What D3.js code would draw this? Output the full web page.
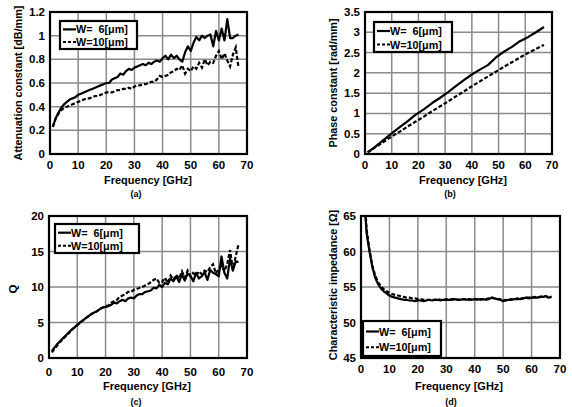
<!DOCTYPE html>
<html><head><meta charset="utf-8">
<script src="https://cdn.jsdelivr.net/npm/d3@7"></script>
<style>body{margin:0;background:#fff}svg{display:block}text{font-family:"Liberation Sans",Arial,sans-serif;font-weight:bold;fill:#000}</style>
</head><body><svg id="c" width="572" height="407"></svg>
<script>
const freq = d3.range(1, 68); // 1..67 GHz
const freqB = [1,4,7,10,13,16,19,22,25,28,31,34,37,40,43,46,49,52,55,58,61,64,67];
const seriesNames = ["W=  6[μm]", "W=10[μm]"];
const xTicks = [0,10,20,30,40,50,60,70];

const attW6 = [0.23,0.30,0.35,0.39,0.42,0.44,0.46,0.47,0.48,0.50,0.51,0.52,0.53,0.54,0.55,0.56,0.57,0.58,0.59,0.60,0.60,0.63,0.64,0.65,0.68,0.67,0.70,0.72,0.71,0.73,0.74,0.75,0.76,0.75,0.77,0.76,0.78,0.79,0.78,0.81,0.83,0.80,0.84,0.81,0.83,0.80,0.78,0.86,0.91,0.87,0.94,0.99,0.96,1.00,0.98,1.00,1.01,0.91,1.04,0.96,1.06,0.96,1.14,0.98,0.98,1.00,1.01];
const attW10 = [0.23,0.30,0.34,0.37,0.39,0.40,0.41,0.42,0.43,0.44,0.45,0.46,0.47,0.47,0.48,0.49,0.49,0.50,0.51,0.52,0.52,0.52,0.53,0.54,0.54,0.55,0.55,0.56,0.55,0.57,0.58,0.58,0.59,0.59,0.60,0.61,0.61,0.63,0.66,0.65,0.66,0.67,0.69,0.70,0.72,0.71,0.75,0.68,0.72,0.70,0.74,0.72,0.77,0.73,0.80,0.75,0.78,0.77,0.83,0.87,0.80,0.85,0.79,0.74,0.84,0.90,0.73];
const attTicks = [0,0.2,0.4,0.6,0.8,1,1.2];

const phW6 = [0.04,0.19,0.35,0.51,0.66,0.81,0.97,1.10,1.25,1.38,1.52,1.67,1.82,1.96,2.08,2.19,2.38,2.52,2.64,2.78,2.88,3.00,3.13];
const phW10 = [0.04,0.17,0.30,0.43,0.55,0.68,0.80,0.92,1.05,1.17,1.29,1.42,1.54,1.67,1.79,1.91,2.03,2.15,2.26,2.38,2.49,2.59,2.69];
const phTicks = [0,0.5,1,1.5,2,2.5,3,3.5];

const qW6 = [1.0,1.5,2.0,2.4,2.8,3.2,3.6,4.0,4.3,4.7,5.0,5.3,5.6,5.9,6.2,6.4,6.6,6.9,7.1,7.2,7.3,7.5,7.8,7.7,8.0,8.2,8.0,8.4,8.5,8.4,8.8,9.0,9.0,9.3,9.4,9.5,9.9,9.8,10.3,10.0,10.6,10.4,11.2,10.8,11.5,10.7,11.8,10.9,11.9,11.6,10.8,12.0,11.2,11.5,12.1,11.0,12.4,12.0,11.8,11.5,14.3,12.0,11.2,14.0,12.3,13.6,13.5];
const qW10 = [0.8,1.3,1.8,2.3,2.7,3.1,3.5,3.9,4.3,4.6,5.0,5.3,5.6,5.9,6.2,6.4,6.6,6.9,7.1,7.3,7.4,7.8,8.0,8.2,8.6,8.8,9.0,9.3,9.3,9.6,9.7,9.9,10.0,10.2,10.4,10.7,11.0,11.2,10.6,10.7,11.3,10.6,11.6,11.0,11.7,11.2,12.2,11.3,12.3,11.5,12.0,11.6,12.2,11.8,12.3,12.1,12.8,13.2,11.9,12.5,13.0,12.2,13.2,15.2,12.5,14.3,16.0];
const qTicks = [0,5,10,15,20];

const zW6 = [68,62.5,60.0,57.8,56.3,55.4,54.8,54.4,54.1,53.8,53.6,53.5,53.4,53.3,53.2,53.2,53.1,53.1,53.0,53.1,53.1,53.0,53.1,53.2,53.1,53.2,53.2,53.1,53.2,53.2,53.2,53.2,53.3,53.2,53.2,53.3,53.2,53.3,53.2,53.3,53.3,53.2,53.3,53.2,53.3,53.5,53.4,53.3,53.2,53.0,53.1,53.2,53.2,53.3,53.3,53.3,53.4,53.5,53.4,53.5,53.5,53.5,53.6,53.6,53.7,53.5,53.6];
const zW10 = [69,63.0,60.2,58.0,56.6,55.7,55.1,54.7,54.4,54.2,54.0,53.9,53.8,53.7,53.6,53.5,53.5,53.4,53.4,53.3,53.3,53.2,53.2,53.2,53.2,53.2,53.3,53.2,53.2,53.3,53.2,53.3,53.3,53.2,53.3,53.3,53.3,53.2,53.3,53.3,53.2,53.3,53.3,53.3,53.4,53.5,53.4,53.3,53.3,53.1,53.2,53.2,53.3,53.3,53.4,53.4,53.4,53.5,53.5,53.5,53.6,53.5,53.6,53.7,53.7,53.6,53.6];
const zTicks = [45,50,55,60,65];

const svg = d3.select("#c");

function panel(o) {
  const g = svg.append("g");
  const x = d3.scaleLinear().domain([0,70]).range([o.l, o.r]);
  const y = d3.scaleLinear().domain([o.yt[0], o.yt[o.yt.length-1]]).range([o.b, o.t]);
  const id = "clip" + o.tag;
  svg.append("clipPath").attr("id", id).append("rect")
    .attr("x", o.l).attr("y", o.t).attr("width", o.r - o.l).attr("height", o.b - o.t);
  g.append("g").selectAll("line").data(xTicks).join("line")
    .attr("x1", d => x(d)).attr("x2", d => x(d)).attr("y1", o.t).attr("y2", o.b)
    .attr("stroke", "#8a8a8a").attr("stroke-width", 1.5);
  g.append("g").selectAll("line").data(o.yt).join("line")
    .attr("y1", d => y(d)).attr("y2", d => y(d)).attr("x1", o.l).attr("x2", o.r)
    .attr("stroke", "#8a8a8a").attr("stroke-width", 1.5);
  const line = d3.line().x(d => x(d[0])).y(d => y(d[1]));
  const lg = g.append("g").attr("clip-path", `url(#${id})`);
  lg.append("path").datum(o.fx.map((f,i) => [f, o.s1[i]])).attr("d", line)
    .attr("fill","none").attr("stroke","#000").attr("stroke-width",2.2).attr("stroke-linejoin","round");
  lg.append("path").datum(o.fx.map((f,i) => [f, o.s2[i]])).attr("d", line)
    .attr("fill","none").attr("stroke","#000").attr("stroke-width",2.2).attr("stroke-dasharray","4,2");
  g.append("rect").attr("x", o.l).attr("y", o.t).attr("width", o.r-o.l).attr("height", o.b-o.t)
    .attr("fill","none").attr("stroke","#000").attr("stroke-width",2.2);
  g.append("g").selectAll("text").data(xTicks).join("text")
    .attr("x", d => x(d)).attr("y", o.b + o.xlOff).attr("text-anchor","middle")
    .attr("dominant-baseline","central").attr("font-size", 11.5).text(d => d);
  g.append("g").selectAll("text").data(o.yt).join("text")
    .attr("x", o.l - 5).attr("y", d => y(d)).attr("text-anchor","end")
    .attr("dominant-baseline","central").attr("font-size", 11.5).text(d => d);
  g.append("text").attr("x", o.xtx).attr("y", o.b + o.xtOff).attr("text-anchor","middle")
    .attr("dominant-baseline","central").attr("font-size", 11).text("Frequency [GHz]");
  g.append("text").attr("transform", `translate(${o.ytx},${o.yty}) rotate(-90)`)
    .attr("text-anchor","middle").attr("dominant-baseline","central")
    .attr("font-size", o.ytSize || 10.8).text(o.ytitle);
  g.append("text").attr("x", o.capx).attr("y", o.b + o.capOff).attr("text-anchor","middle")
    .attr("dominant-baseline","central").attr("font-size", 9).text(o.cap);
  const L = o.leg;
  g.append("rect").attr("x", L.x).attr("y", L.y).attr("width", L.w).attr("height", L.h)
    .attr("fill","#fff").attr("stroke","#000").attr("stroke-width",2.2);
  const rows = [0,1];
  g.append("g").selectAll("line").data(rows).join("line")
    .attr("x1", L.x + 3).attr("x2", L.x + 16)
    .attr("y1", d => L.y + L.h*0.3 + d*L.h*0.45).attr("y2", d => L.y + L.h*0.3 + d*L.h*0.45)
    .attr("stroke","#000").attr("stroke-width",2.2).attr("stroke-dasharray", d => d ? "3,2" : null);
  g.append("g").selectAll("text").data(rows).join("text")
    .attr("x", L.x + 16).attr("y", d => L.y + L.h*0.3 + d*L.h*0.45)
    .attr("dominant-baseline","central").attr("font-size", 10.8).attr("xml:space","preserve")
    .style("white-space","pre").text(d => seriesNames[d]);
}

panel({tag:"a", l:50, r:247, t:12, b:154, yt:attTicks, fx:freq, s1:attW6, s2:attW10,
  xlOff:11, xtOff:26, capOff:40, capx:136, xtx:148, ytx:18, yty:83, ytitle:"Attenuation constant [dB/mm]",
  cap:"(a)", leg:{x:60, y:21, w:77, h:28}});
panel({tag:"b", l:365, r:552, t:12, b:154, yt:phTicks, fx:freqB, s1:phW6, s2:phW10,
  xlOff:11, xtOff:26, capOff:40, capx:450, xtx:463, ytx:333, yty:83, ytitle:"Phase constant [rad/mm]",
  cap:"(b)", leg:{x:374, y:22, w:78, h:30}});
panel({tag:"c", l:49, r:247, t:216, b:358, yt:qTicks, fx:freq, s1:qW6, s2:qW10,
  xlOff:14, xtOff:28, capOff:44, capx:136, xtx:147, ytx:13, yty:289, ytitle:"Q", ytSize:11.5,
  cap:"(c)", leg:{x:55, y:224, w:84, h:29}});
panel({tag:"d", l:361, r:560, t:216, b:358, yt:zTicks, fx:freq, s1:zW6, s2:zW10,
  xlOff:11, xtOff:28, capOff:44, capx:451, xtx:459, ytx:333, yty:285, ytitle:"Characteristic impedance [Ω]",
  cap:"(d)", leg:{x:363, y:321, w:78, h:35}});
</script></body></html>
